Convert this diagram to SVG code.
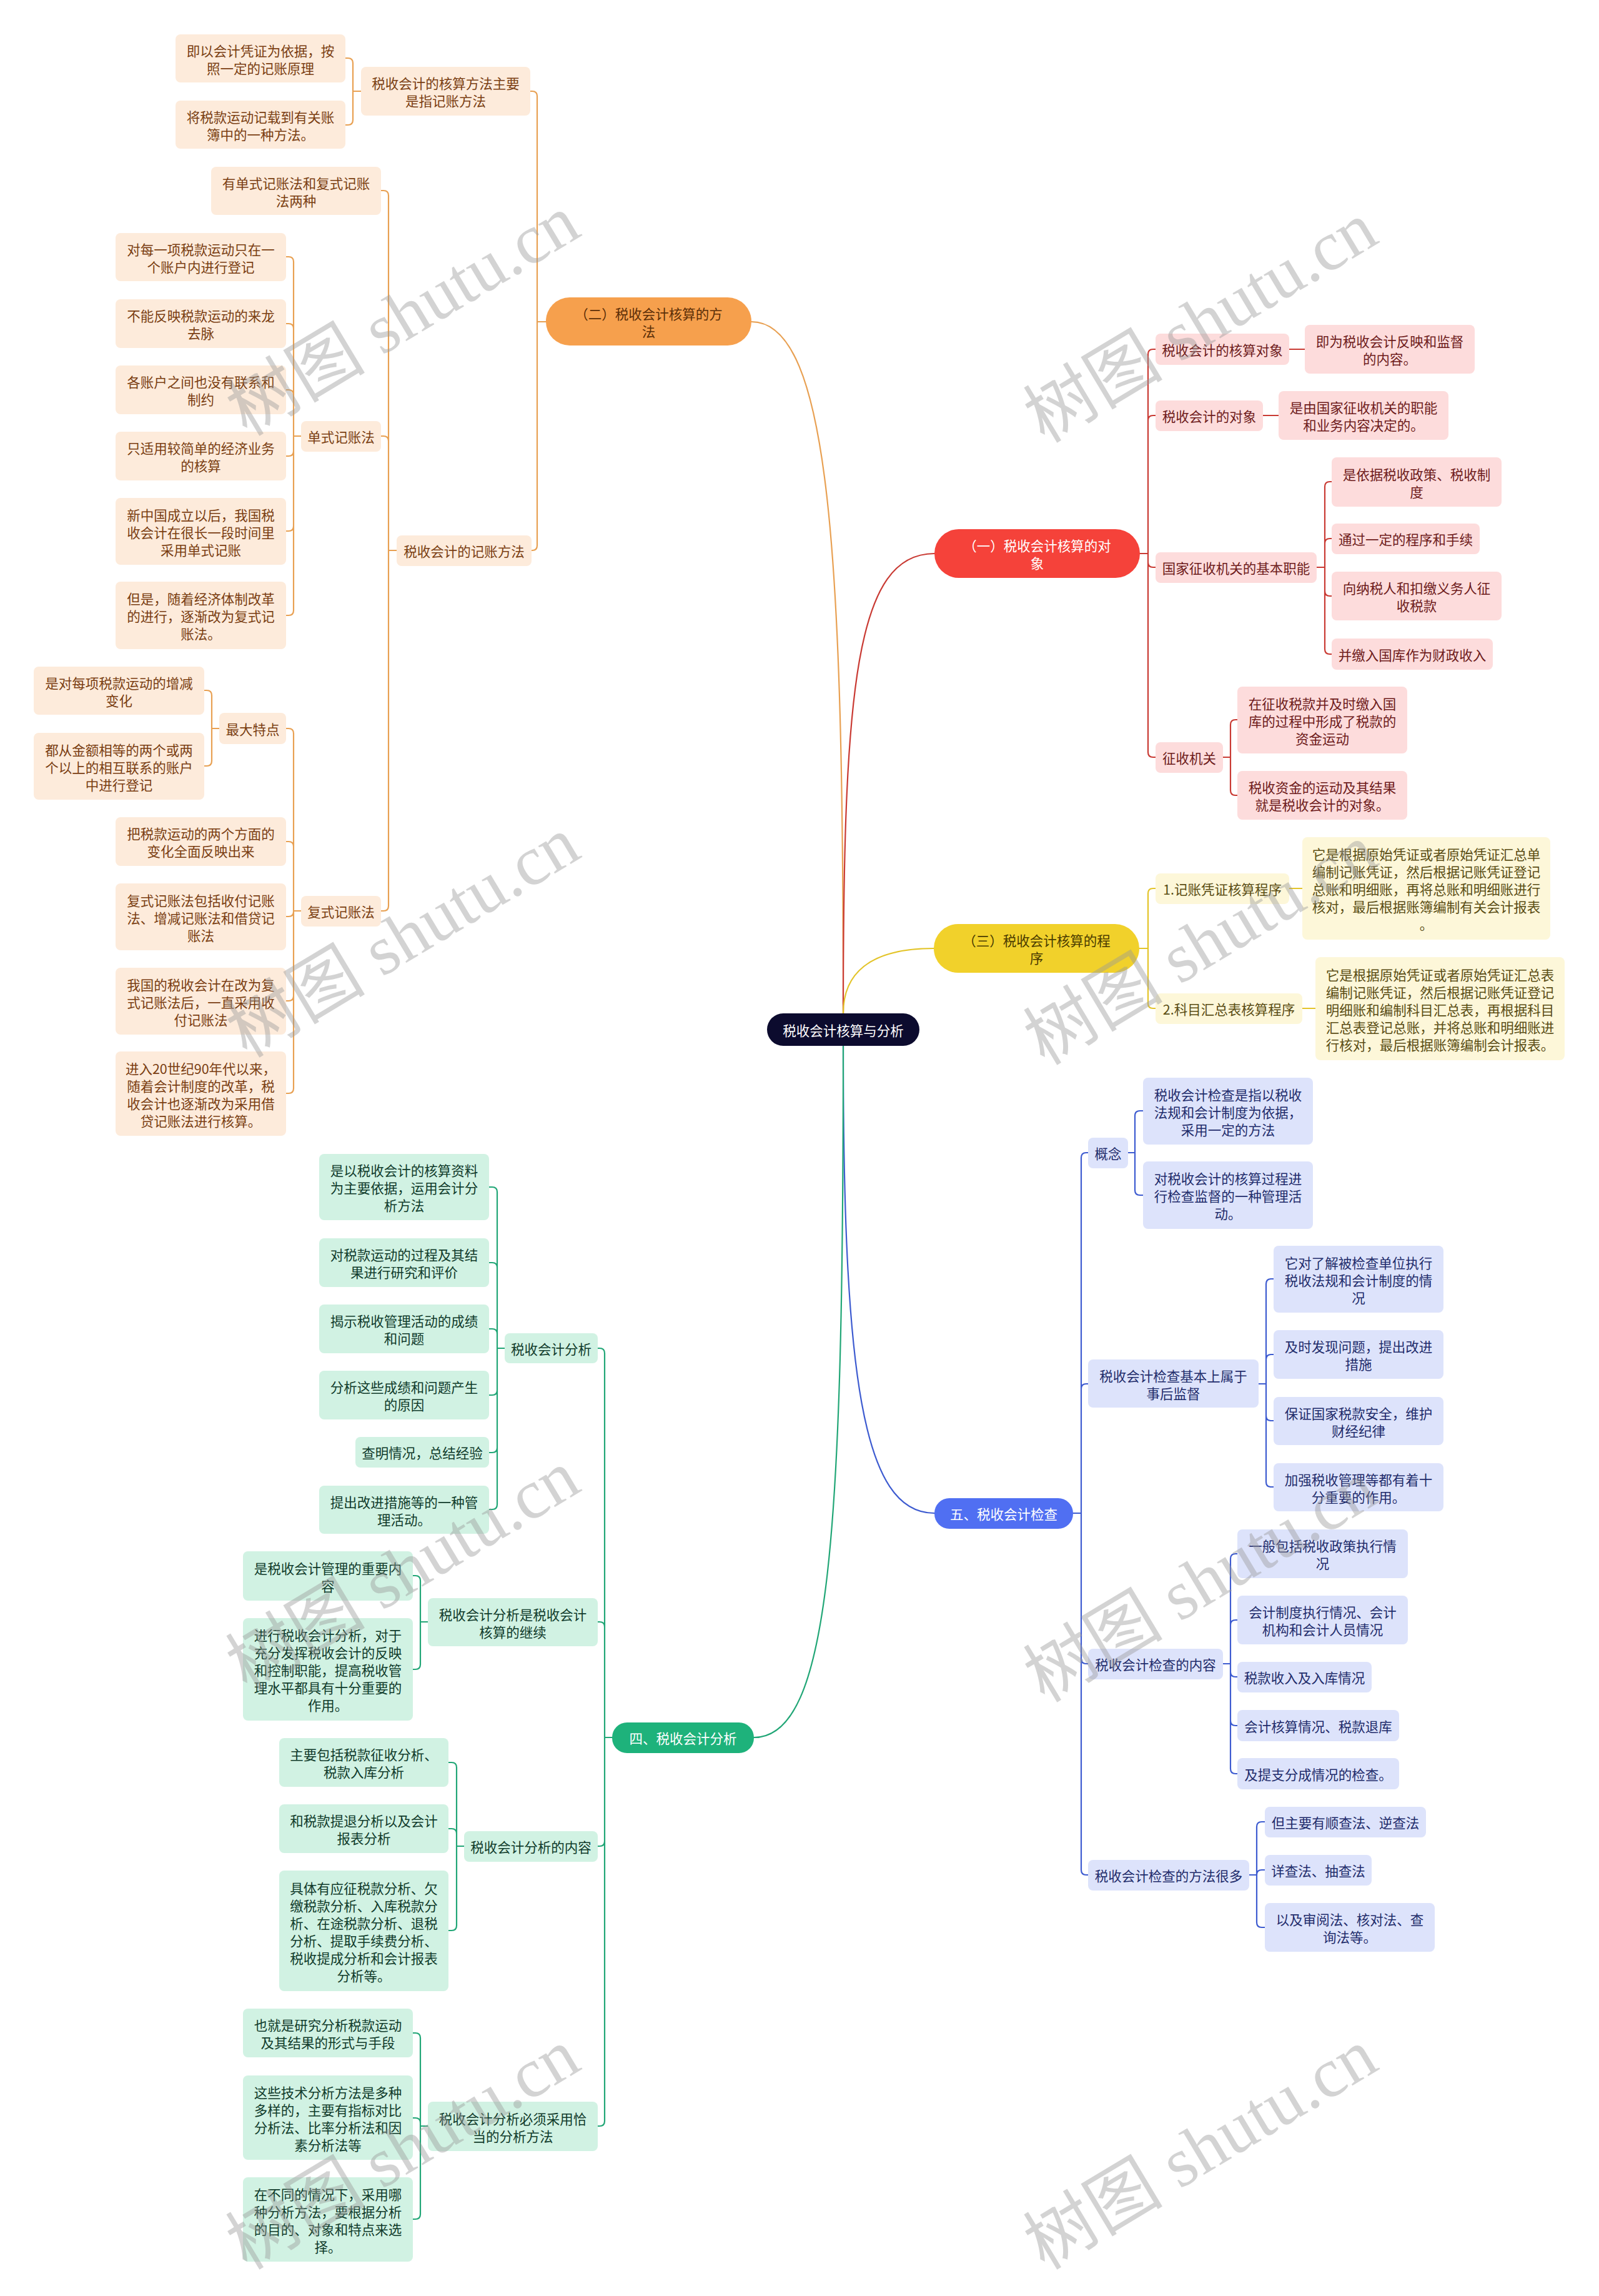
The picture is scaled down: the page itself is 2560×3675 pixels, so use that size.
<svg xmlns="http://www.w3.org/2000/svg" width="2560" height="3675" viewBox="0 0 2560 3675">
<style>
text{font-family:"Noto Sans CJK SC","Noto Sans",sans-serif;font-size:21.5px;text-anchor:middle;dominant-baseline:central}
.c path{fill:none;stroke-width:2.2;stroke-linecap:round;stroke-linejoin:round}
.co{stroke:#e8a052}.cr{stroke:#c93a33}.cy{stroke:#e3c429}.cb{stroke:#3d5bd0}.cg{stroke:#21a676}
.o rect{fill:#fdebdb}.o text{fill:#7a3e12}
.r rect{fill:#fddcdc}.r text{fill:#6e1b1b}
.y rect{fill:#fdf7d9}.y text{fill:#5a4d14}
.b rect{fill:#dde3fb}.b text{fill:#1f2c6b}
.g rect{fill:#d1f2e3}.g text{fill:#103b2b}
.wm text{font-family:"Liberation Serif","Noto Sans CJK SC",serif;font-size:112px;fill:#999;opacity:0.42}
</style>
<rect x="0" y="0" width="2560" height="3675" fill="#ffffff"/>
<g id="connectors" class="c">
<path class="co" d="M1350 1622C1350 900 1330 515 1203 515"/>
<path class="cr" d="M1350 1622C1350 1100 1370 886 1496 886"/>
<path class="cy" d="M1350 1622C1350 1560 1390 1518 1495 1518"/>
<path class="cb" d="M1350 1674C1350 2200 1380 2422 1496 2422"/>
<path class="cg" d="M1350 1674C1350 2450 1330 2781 1207 2781"/>
<path class="co" d="M874 515H860V154Q860 146 852 146H849M874 515H860V873Q860 881 852 881H851"/>
<path class="co" d="M578 146H565V101Q565 93 557 93H553M578 146H565V192Q565 200 557 200H553"/>
<path class="co" d="M635 881H622V313Q622 305 614 305H610M635 881H622V706Q622 698 614 698H610M635 881H622V1450Q622 1458 614 1458H610"/>
<path class="co" d="M482 698H470V419Q470 411 462 411H458M482 698H470V526Q470 518 462 518H458M482 698H470V632Q470 624 462 624H458M482 698H470V722Q470 730 462 730H458M482 698H470V842Q470 850 462 850H458M482 698H470V977Q470 985 462 985H458"/>
<path class="co" d="M482 1458H470V1174Q470 1166 462 1166H458M482 1458H470V1355Q470 1347 462 1347H458M482 1458H470V1459Q470 1467 462 1467H458M482 1458H470V1594Q470 1602 462 1602H458M482 1458H470V1742Q470 1750 462 1750H458"/>
<path class="co" d="M351 1166H339V1113Q339 1105 331 1105H327M351 1166H339V1218Q339 1226 331 1226H327"/>
<path class="cr" d="M1825 886H1838V567Q1838 559 1846 559H1850M1825 886H1838V673Q1838 665 1846 665H1850M1825 886H1838V900Q1838 908 1846 908H1850M1825 886H1838V1204Q1838 1212 1846 1212H1850"/>
<path class="cr" d="M2064 559H2089M2022 665H2047"/>
<path class="cr" d="M2108 908H2121V779Q2121 771 2129 771H2132M2108 908H2121V870Q2121 862 2129 862H2132M2108 908H2121V946Q2121 954 2129 954H2132M2108 908H2121V1039Q2121 1047 2129 1047H2132"/>
<path class="cr" d="M1958 1212H1970V1160Q1970 1152 1978 1152H1981M1958 1212H1970V1265Q1970 1273 1978 1273H1981"/>
<path class="cy" d="M1824 1518H1838V1430Q1838 1422 1846 1422H1850M1824 1518H1838V1606Q1838 1614 1846 1614H1850M2064 1422H2085M2085 1614H2106"/>
<path class="cb" d="M1718 2422H1731V1853Q1731 1845 1739 1845H1742M1718 2422H1731V2223Q1731 2215 1739 2215H1742M1718 2422H1731V2655Q1731 2663 1739 2663H1742M1718 2422H1731V2993Q1731 3001 1739 3001H1742"/>
<path class="cb" d="M1806 1845H1817V1786Q1817 1778 1825 1778H1830M1806 1845H1817V1905Q1817 1913 1825 1913H1830"/>
<path class="cb" d="M2015 2215H2027V2055Q2027 2047 2035 2047H2039M2015 2215H2027V2176Q2027 2168 2035 2168H2039M2015 2215H2027V2266Q2027 2274 2035 2274H2039M2015 2215H2027V2372Q2027 2380 2035 2380H2039"/>
<path class="cb" d="M1958 2663H1970V2495Q1970 2487 1978 2487H1981M1958 2663H1970V2601Q1970 2593 1978 2593H1981M1958 2663H1970V2676Q1970 2684 1978 2684H1981M1958 2663H1970V2754Q1970 2762 1978 2762H1981M1958 2663H1970V2831Q1970 2839 1978 2839H1981"/>
<path class="cb" d="M2000 3001H2012V2924Q2012 2916 2020 2916H2025M2000 3001H2012Q2012 2993 2020 2993H2025M2000 3001H2012V3077Q2012 3085 2020 3085H2025"/>
<path class="cg" d="M980 2781H968V2166Q968 2158 960 2158H957M980 2781H968V2604Q968 2596 960 2596H957M980 2781H968V2947Q968 2955 960 2955H957M980 2781H968V3395Q968 3403 960 3403H957"/>
<path class="cg" d="M808 2158H796V1908Q796 1900 788 1900H783M808 2158H796V2029Q796 2021 788 2021H783M808 2158H796V2135Q796 2127 788 2127H783M808 2158H796V2225Q796 2233 788 2233H783M808 2158H796V2317Q796 2325 788 2325H783M808 2158H796V2408Q796 2416 788 2416H783"/>
<path class="cg" d="M685 2596H673V2530Q673 2522 665 2522H661M685 2596H673V2664Q673 2672 665 2672H661"/>
<path class="cg" d="M743 2955H731V2829Q731 2821 723 2821H718M743 2955H731V2935Q731 2927 723 2927H718M743 2955H731V3082Q731 3090 723 3090H718"/>
<path class="cg" d="M685 3403H673V3262Q673 3254 665 3254H661M685 3403H673V3398Q673 3390 665 3390H661M685 3403H673V3544Q673 3552 665 3552H661"/>
</g>
<g id="root"><rect x="1228" y="1622" width="244" height="52" rx="26" fill="#0c0b2e"/><text x="1350" y="1648" fill="#ffffff">税收会计核算与分析</text></g>
<g id="main-orange"><rect x="874" y="476" width="329" height="77" rx="38" fill="#f6a04d"/><text fill="#5b2e07"><tspan x="1038.5" y="500.5">（二）税收会计核算的方</tspan><tspan x="1038.5" y="528.5">法</tspan></text></g>
<g id="o1" class="o"><rect x="578" y="107" width="271" height="78" rx="8"/><text><tspan x="713.5" y="132">税收会计的核算方法主要</tspan><tspan x="713.5" y="160">是指记账方法</tspan></text></g>
<g id="o1a" class="o"><rect x="281" y="55" width="272" height="77" rx="8"/><text><tspan x="417" y="79.5">即以会计凭证为依据，按</tspan><tspan x="417" y="107.5">照一定的记账原理</tspan></text></g>
<g id="o1b" class="o"><rect x="281" y="161" width="272" height="77" rx="8"/><text><tspan x="417" y="185.5">将税款运动记载到有关账</tspan><tspan x="417" y="213.5">簿中的一种方法。</tspan></text></g>
<g id="o2" class="o"><rect x="635" y="857" width="216" height="49" rx="8"/><text x="743" y="881.5">税收会计的记账方法</text></g>
<g id="o2a" class="o"><rect x="338" y="267" width="272" height="77" rx="8"/><text><tspan x="474" y="291.5">有单式记账法和复式记账</tspan><tspan x="474" y="319.5">法两种</tspan></text></g>
<g id="o2b" class="o"><rect x="482" y="674" width="128" height="49" rx="8"/><text x="546" y="698.5">单式记账法</text></g>
<g id="o2b1" class="o"><rect x="185" y="373" width="273" height="77" rx="8"/><text><tspan x="321.5" y="397.5">对每一项税款运动只在一</tspan><tspan x="321.5" y="425.5">个账户内进行登记</tspan></text></g>
<g id="o2b2" class="o"><rect x="185" y="479" width="273" height="78" rx="8"/><text><tspan x="321.5" y="504">不能反映税款运动的来龙</tspan><tspan x="321.5" y="532">去脉</tspan></text></g>
<g id="o2b3" class="o"><rect x="185" y="585" width="273" height="78" rx="8"/><text><tspan x="321.5" y="610">各账户之间也没有联系和</tspan><tspan x="321.5" y="638">制约</tspan></text></g>
<g id="o2b4" class="o"><rect x="185" y="691" width="273" height="78" rx="8"/><text><tspan x="321.5" y="716">只适用较简单的经济业务</tspan><tspan x="321.5" y="744">的核算</tspan></text></g>
<g id="o2b5" class="o"><rect x="185" y="797" width="273" height="107" rx="8"/><text><tspan x="321.5" y="822.5">新中国成立以后，我国税</tspan><tspan x="321.5" y="850.5">收会计在很长一段时间里</tspan><tspan x="321.5" y="878.5">采用单式记账</tspan></text></g>
<g id="o2b6" class="o"><rect x="185" y="931" width="273" height="108" rx="8"/><text><tspan x="321.5" y="957">但是，随着经济体制改革</tspan><tspan x="321.5" y="985">的进行，逐渐改为复式记</tspan><tspan x="321.5" y="1013">账法。</tspan></text></g>
<g id="o2c" class="o"><rect x="482" y="1434" width="128" height="49" rx="8"/><text x="546" y="1458.5">复式记账法</text></g>
<g id="o2c1" class="o"><rect x="351" y="1141" width="107" height="50" rx="8"/><text x="404.5" y="1166">最大特点</text></g>
<g id="o2c1a" class="o"><rect x="54" y="1067" width="273" height="77" rx="8"/><text><tspan x="190.5" y="1091.5">是对每项税款运动的增减</tspan><tspan x="190.5" y="1119.5">变化</tspan></text></g>
<g id="o2c1b" class="o"><rect x="54" y="1173" width="273" height="107" rx="8"/><text><tspan x="190.5" y="1198.5">都从金额相等的两个或两</tspan><tspan x="190.5" y="1226.5">个以上的相互联系的账户</tspan><tspan x="190.5" y="1254.5">中进行登记</tspan></text></g>
<g id="o2c2" class="o"><rect x="185" y="1308" width="273" height="78" rx="8"/><text><tspan x="321.5" y="1333">把税款运动的两个方面的</tspan><tspan x="321.5" y="1361">变化全面反映出来</tspan></text></g>
<g id="o2c3" class="o"><rect x="185" y="1414" width="273" height="107" rx="8"/><text><tspan x="321.5" y="1439.5">复式记账法包括收付记账</tspan><tspan x="321.5" y="1467.5">法、增减记账法和借贷记</tspan><tspan x="321.5" y="1495.5">账法</tspan></text></g>
<g id="o2c4" class="o"><rect x="185" y="1549" width="273" height="107" rx="8"/><text><tspan x="321.5" y="1574.5">我国的税收会计在改为复</tspan><tspan x="321.5" y="1602.5">式记账法后，一直采用收</tspan><tspan x="321.5" y="1630.5">付记账法</tspan></text></g>
<g id="o2c5" class="o"><rect x="185" y="1683" width="273" height="135" rx="8"/><text><tspan x="321.5" y="1708.5">进入20世纪90年代以来，</tspan><tspan x="321.5" y="1736.5">随着会计制度的改革，税</tspan><tspan x="321.5" y="1764.5">收会计也逐渐改为采用借</tspan><tspan x="321.5" y="1792.5">贷记账法进行核算。</tspan></text></g>
<g id="main-red"><rect x="1496" y="847" width="329" height="78" rx="39" fill="#f5423a"/><text fill="#ffffff"><tspan x="1660.5" y="872">（一）税收会计核算的对</tspan><tspan x="1660.5" y="900">象</tspan></text></g>
<g id="r1" class="r"><rect x="1850" y="534" width="214" height="50" rx="8"/><text x="1957" y="559">税收会计的核算对象</text></g>
<g id="r1a" class="r"><rect x="2089" y="520" width="272" height="78" rx="8"/><text><tspan x="2225" y="545">即为税收会计反映和监督</tspan><tspan x="2225" y="573">的内容。</tspan></text></g>
<g id="r2" class="r"><rect x="1850" y="641" width="172" height="49" rx="8"/><text x="1936" y="665.5">税收会计的对象</text></g>
<g id="r2a" class="r"><rect x="2047" y="626" width="272" height="78" rx="8"/><text><tspan x="2183" y="651">是由国家征收机关的职能</tspan><tspan x="2183" y="679">和业务内容决定的。</tspan></text></g>
<g id="r3" class="r"><rect x="1850" y="884" width="258" height="49" rx="8"/><text x="1979" y="908.5">国家征收机关的基本职能</text></g>
<g id="r3a" class="r"><rect x="2132" y="732" width="272" height="79" rx="8"/><text><tspan x="2268" y="757.5">是依据税收政策、税收制</tspan><tspan x="2268" y="785.5">度</tspan></text></g>
<g id="r3b" class="r"><rect x="2132" y="838" width="237" height="49" rx="8"/><text x="2250.5" y="862.5">通过一定的程序和手续</text></g>
<g id="r3c" class="r"><rect x="2132" y="915" width="272" height="78" rx="8"/><text><tspan x="2268" y="940">向纳税人和扣缴义务人征</tspan><tspan x="2268" y="968">收税款</tspan></text></g>
<g id="r3d" class="r"><rect x="2132" y="1022" width="258" height="50" rx="8"/><text x="2261" y="1047">并缴入国库作为财政收入</text></g>
<g id="r4" class="r"><rect x="1850" y="1188" width="108" height="49" rx="8"/><text x="1904" y="1212.5">征收机关</text></g>
<g id="r4a" class="r"><rect x="1981" y="1099" width="272" height="107" rx="8"/><text><tspan x="2117" y="1124.5">在征收税款并及时缴入国</tspan><tspan x="2117" y="1152.5">库的过程中形成了税款的</tspan><tspan x="2117" y="1180.5">资金运动</tspan></text></g>
<g id="r4b" class="r"><rect x="1981" y="1234" width="272" height="78" rx="8"/><text><tspan x="2117" y="1259">税收资金的运动及其结果</tspan><tspan x="2117" y="1287">就是税收会计的对象。</tspan></text></g>
<g id="main-yellow"><rect x="1495" y="1479" width="329" height="78" rx="39" fill="#f1d12b"/><text fill="#4a3b00"><tspan x="1659.5" y="1504">（三）税收会计核算的程</tspan><tspan x="1659.5" y="1532">序</tspan></text></g>
<g id="y1" class="y"><rect x="1850" y="1398" width="214" height="49" rx="8"/><text x="1957" y="1422.5">1.记账凭证核算程序</text></g>
<g id="y1a" class="y"><rect x="2085" y="1340" width="397" height="164" rx="8"/><text><tspan x="2283.5" y="1366">它是根据原始凭证或者原始凭证汇总单</tspan><tspan x="2283.5" y="1394">编制记账凭证，然后根据记账凭证登记</tspan><tspan x="2283.5" y="1422">总账和明细账，再将总账和明细账进行</tspan><tspan x="2283.5" y="1450">核对，最后根据账簿编制有关会计报表</tspan><tspan x="2283.5" y="1478">。</tspan></text></g>
<g id="y2" class="y"><rect x="1850" y="1590" width="235" height="49" rx="8"/><text x="1967.5" y="1614.5">2.科目汇总表核算程序</text></g>
<g id="y2a" class="y"><rect x="2106" y="1532" width="399" height="165" rx="8"/><text><tspan x="2305.5" y="1558.5">它是根据原始凭证或者原始凭证汇总表</tspan><tspan x="2305.5" y="1586.5">编制记账凭证，然后根据记账凭证登记</tspan><tspan x="2305.5" y="1614.5">明细账和编制科目汇总表，再根据科目</tspan><tspan x="2305.5" y="1642.5">汇总表登记总账，并将总账和明细账进</tspan><tspan x="2305.5" y="1670.5">行核对，最后根据账簿编制会计报表。</tspan></text></g>
<g id="main-blue"><rect x="1496" y="2398" width="222" height="49" rx="24" fill="#506ff2"/><text x="1607" y="2422.5" fill="#ffffff">五、税收会计检查</text></g>
<g id="b1" class="b"><rect x="1742" y="1821" width="64" height="49" rx="8"/><text x="1774" y="1845.5">概念</text></g>
<g id="b1a" class="b"><rect x="1830" y="1725" width="272" height="107" rx="8"/><text><tspan x="1966" y="1750.5">税收会计检查是指以税收</tspan><tspan x="1966" y="1778.5">法规和会计制度为依据，</tspan><tspan x="1966" y="1806.5">采用一定的方法</tspan></text></g>
<g id="b1b" class="b"><rect x="1830" y="1859" width="272" height="108" rx="8"/><text><tspan x="1966" y="1885">对税收会计的核算过程进</tspan><tspan x="1966" y="1913">行检查监督的一种管理活</tspan><tspan x="1966" y="1941">动。</tspan></text></g>
<g id="b2" class="b"><rect x="1742" y="2176" width="273" height="77" rx="8"/><text><tspan x="1878.5" y="2200.5">税收会计检查基本上属于</tspan><tspan x="1878.5" y="2228.5">事后监督</tspan></text></g>
<g id="b2a" class="b"><rect x="2039" y="1994" width="272" height="107" rx="8"/><text><tspan x="2175" y="2019.5">它对了解被检查单位执行</tspan><tspan x="2175" y="2047.5">税收法规和会计制度的情</tspan><tspan x="2175" y="2075.5">况</tspan></text></g>
<g id="b2b" class="b"><rect x="2039" y="2129" width="272" height="78" rx="8"/><text><tspan x="2175" y="2154">及时发现问题，提出改进</tspan><tspan x="2175" y="2182">措施</tspan></text></g>
<g id="b2c" class="b"><rect x="2039" y="2236" width="272" height="77" rx="8"/><text><tspan x="2175" y="2260.5">保证国家税款安全，维护</tspan><tspan x="2175" y="2288.5">财经纪律</tspan></text></g>
<g id="b2d" class="b"><rect x="2039" y="2342" width="272" height="77" rx="8"/><text><tspan x="2175" y="2366.5">加强税收管理等都有着十</tspan><tspan x="2175" y="2394.5">分重要的作用。</tspan></text></g>
<g id="b3" class="b"><rect x="1742" y="2639" width="216" height="49" rx="8"/><text x="1850" y="2663.5">税收会计检查的内容</text></g>
<g id="b3a" class="b"><rect x="1981" y="2448" width="273" height="78" rx="8"/><text><tspan x="2117.5" y="2473">一般包括税收政策执行情</tspan><tspan x="2117.5" y="2501">况</tspan></text></g>
<g id="b3b" class="b"><rect x="1981" y="2554" width="273" height="78" rx="8"/><text><tspan x="2117.5" y="2579">会计制度执行情况、会计</tspan><tspan x="2117.5" y="2607">机构和会计人员情况</tspan></text></g>
<g id="b3c" class="b"><rect x="1981" y="2660" width="215" height="49" rx="8"/><text x="2088.5" y="2684.5">税款收入及入库情况</text></g>
<g id="b3d" class="b"><rect x="1981" y="2737" width="259" height="50" rx="8"/><text x="2110.5" y="2762">会计核算情况、税款退库</text></g>
<g id="b3e" class="b"><rect x="1981" y="2814" width="259" height="50" rx="8"/><text x="2110.5" y="2839">及提支分成情况的检查。</text></g>
<g id="b4" class="b"><rect x="1742" y="2977" width="258" height="49" rx="8"/><text x="1871" y="3001.5">税收会计检查的方法很多</text></g>
<g id="b4a" class="b"><rect x="2025" y="2892" width="258" height="49" rx="8"/><text x="2154" y="2916.5">但主要有顺查法、逆查法</text></g>
<g id="b4b" class="b"><rect x="2025" y="2969" width="171" height="49" rx="8"/><text x="2110.5" y="2993.5">详查法、抽查法</text></g>
<g id="b4c" class="b"><rect x="2025" y="3046" width="272" height="78" rx="8"/><text><tspan x="2161" y="3071">以及审阅法、核对法、查</tspan><tspan x="2161" y="3099">询法等。</tspan></text></g>
<g id="main-green"><rect x="980" y="2757" width="227" height="49" rx="24" fill="#1eb27b"/><text x="1093.5" y="2781.5" fill="#ffffff">四、税收会计分析</text></g>
<g id="g1" class="g"><rect x="808" y="2134" width="149" height="48" rx="8"/><text x="882.5" y="2158">税收会计分析</text></g>
<g id="g1a" class="g"><rect x="511" y="1847" width="272" height="106" rx="8"/><text><tspan x="647" y="1872">是以税收会计的核算资料</tspan><tspan x="647" y="1900">为主要依据，运用会计分</tspan><tspan x="647" y="1928">析方法</tspan></text></g>
<g id="g1b" class="g"><rect x="511" y="1982" width="272" height="78" rx="8"/><text><tspan x="647" y="2007">对税款运动的过程及其结</tspan><tspan x="647" y="2035">果进行研究和评价</tspan></text></g>
<g id="g1c" class="g"><rect x="511" y="2088" width="272" height="78" rx="8"/><text><tspan x="647" y="2113">揭示税收管理活动的成绩</tspan><tspan x="647" y="2141">和问题</tspan></text></g>
<g id="g1d" class="g"><rect x="511" y="2194" width="272" height="78" rx="8"/><text><tspan x="647" y="2219">分析这些成绩和问题产生</tspan><tspan x="647" y="2247">的原因</tspan></text></g>
<g id="g1e" class="g"><rect x="569" y="2300" width="214" height="49" rx="8"/><text x="676" y="2324.5">查明情况，总结经验</text></g>
<g id="g1f" class="g"><rect x="511" y="2378" width="272" height="77" rx="8"/><text><tspan x="647" y="2402.5">提出改进措施等的一种管</tspan><tspan x="647" y="2430.5">理活动。</tspan></text></g>
<g id="g2" class="g"><rect x="685" y="2558" width="272" height="77" rx="8"/><text><tspan x="821" y="2582.5">税收会计分析是税收会计</tspan><tspan x="821" y="2610.5">核算的继续</tspan></text></g>
<g id="g2a" class="g"><rect x="389" y="2483" width="272" height="79" rx="8"/><text><tspan x="525" y="2508.5">是税收会计管理的重要内</tspan><tspan x="525" y="2536.5">容</tspan></text></g>
<g id="g2b" class="g"><rect x="389" y="2590" width="272" height="164" rx="8"/><text><tspan x="525" y="2616">进行税收会计分析，对于</tspan><tspan x="525" y="2644">充分发挥税收会计的反映</tspan><tspan x="525" y="2672">和控制职能，提高税收管</tspan><tspan x="525" y="2700">理水平都具有十分重要的</tspan><tspan x="525" y="2728">作用。</tspan></text></g>
<g id="g3" class="g"><rect x="743" y="2931" width="214" height="49" rx="8"/><text x="850" y="2955.5">税收会计分析的内容</text></g>
<g id="g3a" class="g"><rect x="447" y="2782" width="271" height="78" rx="8"/><text><tspan x="582.5" y="2807">主要包括税款征收分析、</tspan><tspan x="582.5" y="2835">税款入库分析</tspan></text></g>
<g id="g3b" class="g"><rect x="447" y="2888" width="271" height="78" rx="8"/><text><tspan x="582.5" y="2913">和税款提退分析以及会计</tspan><tspan x="582.5" y="2941">报表分析</tspan></text></g>
<g id="g3c" class="g"><rect x="447" y="2994" width="271" height="193" rx="8"/><text><tspan x="582.5" y="3020.5">具体有应征税款分析、欠</tspan><tspan x="582.5" y="3048.5">缴税款分析、入库税款分</tspan><tspan x="582.5" y="3076.5">析、在途税款分析、退税</tspan><tspan x="582.5" y="3104.5">分析、提取手续费分析、</tspan><tspan x="582.5" y="3132.5">税收提成分析和会计报表</tspan><tspan x="582.5" y="3160.5">分析等。</tspan></text></g>
<g id="g4" class="g"><rect x="685" y="3364" width="272" height="79" rx="8"/><text><tspan x="821" y="3389.5">税收会计分析必须采用恰</tspan><tspan x="821" y="3417.5">当的分析方法</tspan></text></g>
<g id="g4a" class="g"><rect x="389" y="3215" width="272" height="78" rx="8"/><text><tspan x="525" y="3240">也就是研究分析税款运动</tspan><tspan x="525" y="3268">及其结果的形式与手段</tspan></text></g>
<g id="g4b" class="g"><rect x="389" y="3322" width="272" height="135" rx="8"/><text><tspan x="525" y="3347.5">这些技术分析方法是多种</tspan><tspan x="525" y="3375.5">多样的，主要有指标对比</tspan><tspan x="525" y="3403.5">分析法、比率分析法和因</tspan><tspan x="525" y="3431.5">素分析法等</tspan></text></g>
<g id="g4c" class="g"><rect x="389" y="3485" width="272" height="135" rx="8"/><text><tspan x="525" y="3510.5">在不同的情况下，采用哪</tspan><tspan x="525" y="3538.5">种分析方法，要根据分析</tspan><tspan x="525" y="3566.5">的目的、对象和特点来选</tspan><tspan x="525" y="3594.5">择。</tspan></text></g>
<g id="watermarks" class="wm">
<text x="645" y="505" transform="rotate(-31 645 505)">树图 shutu.cn</text>
<text x="1922" y="516" transform="rotate(-31 1922 516)">树图 shutu.cn</text>
<text x="645" y="1500" transform="rotate(-31 645 1500)">树图 shutu.cn</text>
<text x="1922" y="1512" transform="rotate(-31 1922 1512)">树图 shutu.cn</text>
<text x="645" y="2514" transform="rotate(-31 645 2514)">树图 shutu.cn</text>
<text x="1922" y="2532" transform="rotate(-31 1922 2532)">树图 shutu.cn</text>
<text x="645" y="3440" transform="rotate(-31 645 3440)">树图 shutu.cn</text>
<text x="1922" y="3440" transform="rotate(-31 1922 3440)">树图 shutu.cn</text>
</g>
</svg>
